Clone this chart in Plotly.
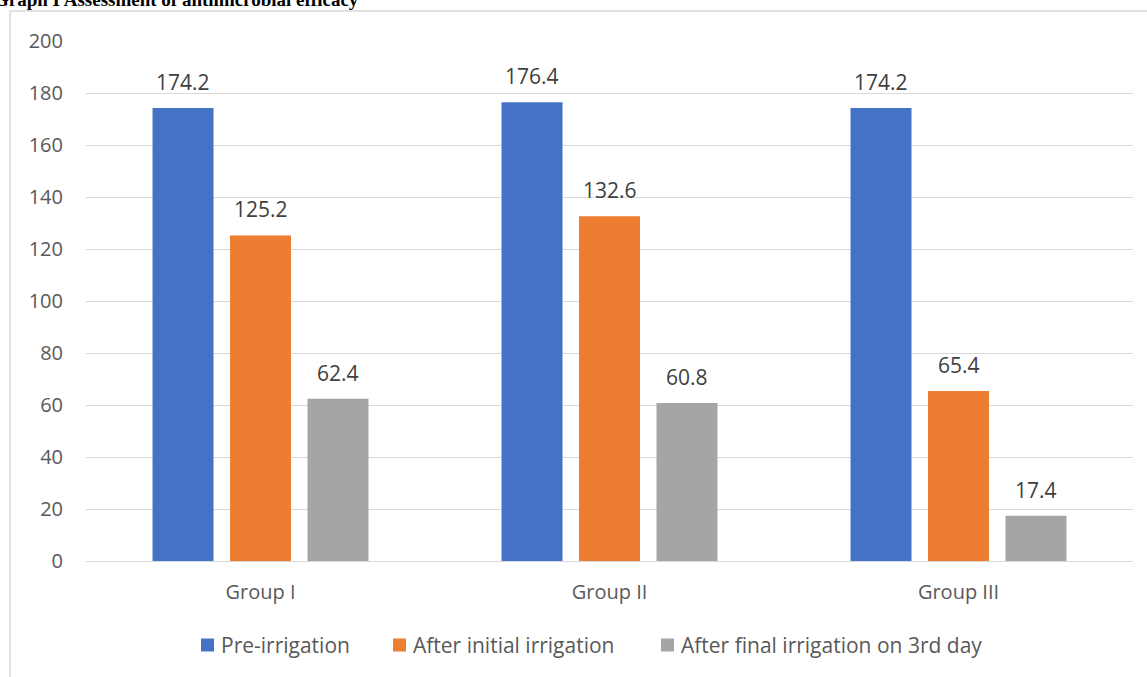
import plotly.graph_objects as go

# Bacterial counts per group at each sampling stage
groups = ["Group I", "Group II", "Group III"]
series_names = ["Pre-irrigation", "After initial irrigation", "After final irrigation on 3rd day"]
pre_irrigation = [174.2, 176.4, 174.2]
after_initial = [125.2, 132.6, 65.4]
after_final = [62.4, 60.8, 17.4]
y_ticks = [0, 20, 40, 60, 80, 100, 120, 140, 160, 180, 200]

series_values = [pre_irrigation, after_initial, after_final]
colors = ["#4472C4", "#ED7D31", "#A5A5A5"]

W, H = 1147, 677
L, R, T, B = 86, 14, 41, 116
plot_w = W - L - R
plot_h = H - T - B

FONT = "Open Sans"
TEXT_GREY = "#595959"


def px_x(px):
    return (px - L) / plot_w


def px_y(py):
    return (H - B - py) / plot_h


fig = go.Figure()
for name, vals, col in zip(series_names, series_values, colors):
    fig.add_trace(go.Bar(x=groups, y=vals, name=name, showlegend=False,
                         marker=dict(color=col, line=dict(width=0))))

# value labels above each bar
bargap = 0.334
bargroupgap = 0.213
slot = (1 - bargap) / len(series_values)
annotations = []
for k, vals in enumerate(series_values):
    off = (k - (len(series_values) - 1) / 2) * slot
    for i, v in enumerate(vals):
        annotations.append(dict(
            x=i + off, y=v, xref="x", yref="y", text=f"{v}", showarrow=False,
            xanchor="center", yanchor="bottom", yshift=10,
            font=dict(family=FONT, size=21, color="#404040"),
        ))

# chart title above the frame
annotations.append(dict(
    x=px_x(-8), y=px_y(12), xref="paper", yref="paper",
    text="<b>Graph I Assessment of antimicrobial efficacy</b>", showarrow=False,
    xanchor="left", yanchor="bottom",
    font=dict(family="Liberation Serif", size=19, color="#000000"),
))

# legend row: colour key squares with series names
shapes = []
legend_left = [201, 393, 661]
legend_cy = 645
for name, col, lx in zip(series_names, colors, legend_left):
    shapes.append(dict(type="rect", xref="paper", yref="paper",
                       x0=px_x(lx), x1=px_x(lx + 13),
                       y0=px_y(legend_cy + 6.5), y1=px_y(legend_cy - 6.5),
                       line=dict(width=0), fillcolor=col))
    annotations.append(dict(
        x=px_x(lx + 18), y=px_y(legend_cy), xref="paper", yref="paper",
        text=name, showarrow=False, xanchor="left", yanchor="middle",
        font=dict(family=FONT, size=21, color=TEXT_GREY),
    ))

# outer chart frame
shapes.append(dict(type="rect", xref="paper", yref="paper",
                   x0=px_x(10), x1=px_x(W + 20),
                   y0=px_y(H + 20), y1=px_y(11),
                   line=dict(color="#D9D9D9", width=1.5),
                   fillcolor="rgba(0,0,0,0)", layer="below"))

fig.update_layout(
    width=W, height=H,
    margin=dict(l=L, r=R, t=T, b=B),
    paper_bgcolor="white", plot_bgcolor="white",
    barmode="group", bargap=bargap, bargroupgap=bargroupgap,
    annotations=annotations,
    shapes=shapes,
    showlegend=False,
    xaxis=dict(
        showgrid=False, showline=True, linecolor="#D9D9D9", linewidth=1,
        ticks="", tickfont=dict(family=FONT, size=20, color=TEXT_GREY),
        ticklabelstandoff=13,
    ),
    yaxis=dict(
        range=[0, 200], tickvals=y_ticks, showgrid=True, gridcolor="#D9D9D9",
        gridwidth=1, zeroline=False, showline=False, ticks="",
        tickfont=dict(family=FONT, size=20, color=TEXT_GREY),
        ticklabelstandoff=22,
    ),
)

fig.write_html("out.html")
